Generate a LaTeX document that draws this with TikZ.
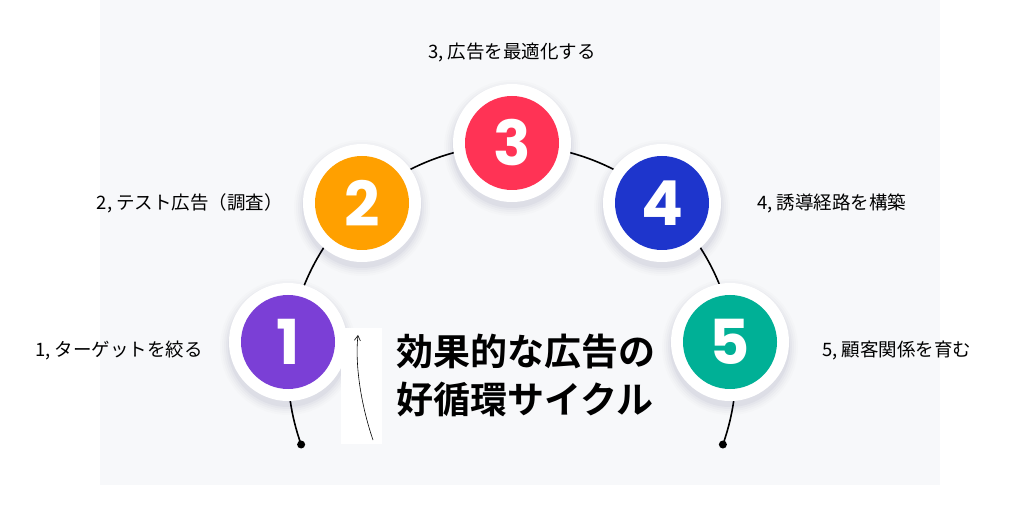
\documentclass[tikz,border=0pt]{standalone}
\usepackage{fontspec}
\setmainfont{Poppins}
\newfontfamily\jp{Noto Sans CJK JP}[BoldFont={* Bold}]
\newfontfamily\jpb{Noto Sans CJK JP}[BoldFont={* Bold}]
\usetikzlibrary{arrows.meta}
\definecolor{panel}{HTML}{F7F8FA}
\definecolor{cA}{HTML}{7B3FD6}
\definecolor{cB}{HTML}{FFA000}
\definecolor{cC}{HTML}{FF3355}
\definecolor{cD}{HTML}{1E35CC}
\definecolor{cE}{HTML}{00B096}
\tikzset{
  numbox/.style={circle, minimum size=94pt, inner sep=0pt, text=white, font=\bfseries\fontsize{62}{62}\selectfont},
  lbl/.style={font=\jp\fontsize{18.5}{20}\selectfont, text=black, inner sep=0pt},
}
\newcommand{\stepcircle}[4]{%
  \foreach \r/\o in {68/0.012,66/0.015,64/0.02,62/0.025,60/0.03}{\fill[black!70!blue,opacity=\o] (#1,#2-5) circle (\r);}
  \fill[white] (#1,#2) circle (59);
  \node[numbox, fill=#3] (#4) at (#1,#2) {#4};
}
\begin{document}
\begin{tikzpicture}[x=1pt,y=1pt]
\useasboundingbox (0,0) rectangle (1024,522);
\fill[white] (0,0) rectangle (1024,522);
\fill[panel] (100,37) rectangle (940,522);
% arc
\coordinate (ctr) at (512,153);
\draw[line width=1.6pt] ([shift={(199.7:224)}]ctr) coordinate (e1) arc[start angle=199.7, end angle=-19.7, radius=224] coordinate (e2);
\fill (e1) circle (4);
\fill (e2) circle (4);
\stepcircle{288}{180}{cA}{1}
\stepcircle{362}{319}{cB}{2}
\stepcircle{512}{379}{cC}{3}
\stepcircle{662}{319}{cD}{4}
\stepcircle{730}{180}{cE}{5}
% arrow box
\fill[white] (341,78) rectangle (382,194);
\coordinate (a0) at (373,82);
\coordinate (a1) at (358,187);
\draw[line width=0.6pt, -{Straight Barb[length=5pt,width=6pt]}] (a0) .. controls (360,120) and (355,160) .. (a1);
% title
\node[anchor=west, inner sep=0pt, font=\jpb\bfseries\fontsize{37}{48}\selectfont, align=left] (title) at (396,147) {効果的な広告の\\好循環サイクル};
% labels
\node[lbl, anchor=east] (l1) at (203,172) {1, ターゲットを絞る};
\node[lbl, anchor=east] (l2) at (283,319) {2, テスト広告（調査）};
\node[lbl] (l3) at (512,470) {3, 広告を最適化する};
\node[lbl, anchor=west] (l4) at (757,319) {4, 誘導経路を構築};
\node[lbl, anchor=west] (l5) at (822,172) {5, 顧客関係を育む};
\end{tikzpicture}
\end{document}
